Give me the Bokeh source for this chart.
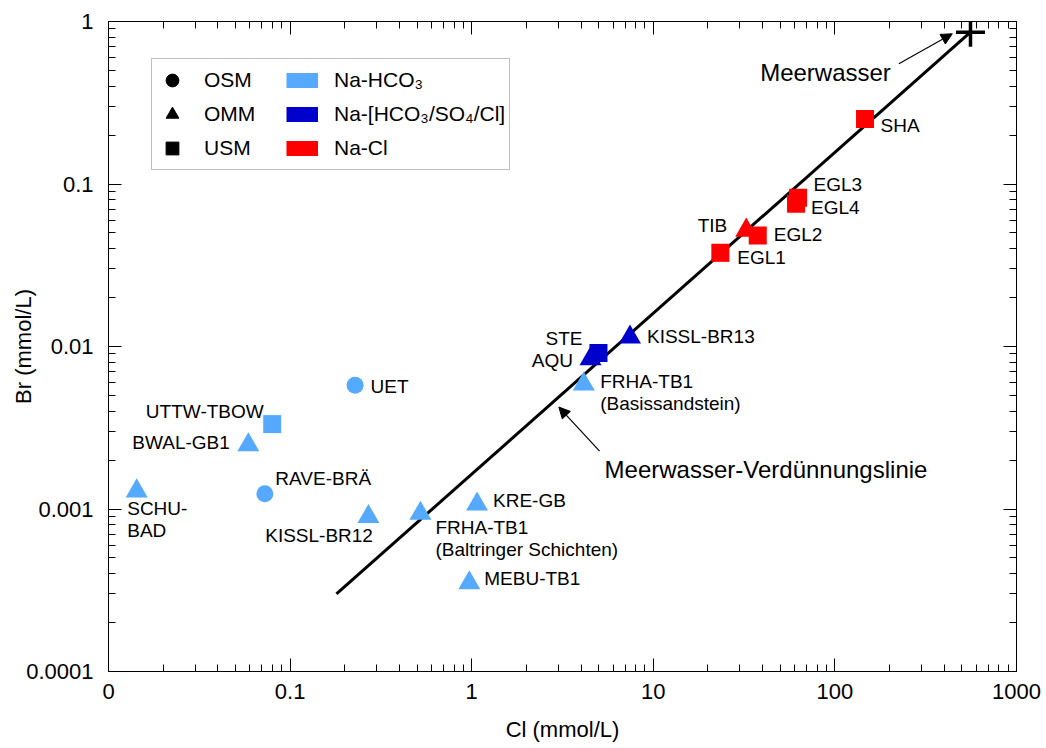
from bokeh.plotting import figure
from bokeh.models import (ColumnDataSource, Range1d, FixedTicker, LogAxis, Legend,
                          LegendItem, Arrow, NormalHead, CustomJSTickFormatter)
from bokeh.core.properties import value
from bokeh.embed import file_html
from bokeh.resources import INLINE

# ------------------------------------------------------------------ data
sample = ["SHA", "EGL3", "EGL4", "TIB", "EGL2", "EGL1", "KISSL-BR13", "AQU", "STE",
          "FRHA-TB1\n(Basissandstein)", "UET", "UTTW-TBOW", "BWAL-GB1", "SCHU-\nBAD",
          "RAVE-BRÄ", "KISSL-BR12", "FRHA-TB1\n(Baltringer Schichten)", "KRE-GB", "MEBU-TB1"]
cl_mmol = [146.5, 62.7, 61.1, 32.5, 37.6, 23.4, 7.44, 4.51, 4.99,
           4.14, 0.228, 0.0797, 0.0589, 0.0143,
           0.0726, 0.270, 0.522, 1.07, 0.970]
br_mmol = [0.251, 0.0823, 0.0755, 0.0519, 0.0482, 0.0377, 0.0114, 0.00838, 0.00912,
           0.00587, 0.00577, 0.00333, 0.00248, 0.00129,
           0.00124, 0.000896, 0.000939, 0.00107, 0.000351]
aquifer = ["USM", "USM", "USM", "OMM", "USM", "USM", "OMM", "OMM", "USM",
           "OMM", "OSM", "USM", "OMM", "OMM",
           "OSM", "OMM", "OMM", "OMM", "OMM"]
water_type = ["Na-Cl", "Na-Cl", "Na-Cl", "Na-Cl", "Na-Cl", "Na-Cl",
              "Na-mix", "Na-mix", "Na-mix",
              "Na-HCO3", "Na-HCO3", "Na-HCO3", "Na-HCO3", "Na-HCO3",
              "Na-HCO3", "Na-HCO3", "Na-HCO3", "Na-HCO3", "Na-HCO3"]

seawater_cl = [558.0]
seawater_br = [0.86]

dilution_cl = [0.18, 558.0]
dilution_br = [0.0003, 0.86]

x_tick_values = [0.01, 0.1, 1, 10, 100, 1000]
x_tick_labels = ["0", "0.1", "1", "10", "100", "1000"]
y_tick_values = [0.0001, 0.001, 0.01, 0.1, 1]
y_tick_labels = ["0.0001", "0.001", "0.01", "0.1", "1"]

aquifer_names = ["OSM", "OMM", "USM"]
type_keys = ["Na-HCO3", "Na-mix", "Na-Cl"]
type_names = ["Na-HCO₃", "Na-[HCO₃/SO₄/Cl]", "Na-Cl"]

annot_text = ["Meerwasser", "Meerwasser-Verdünnungslinie"]
annot_x_start = [225.0, 5.06]
annot_y_start = [0.549, 0.00227]
annot_x_end = [443.0, 3.02]
annot_y_end = [0.84, 0.00424]

# ------------------------------------------------------------------ styles
FONT = "Liberation Sans"
MARKER = {"OSM": "circle", "OMM": "triangle", "USM": "square"}
SIZE = {"OSM": 17, "OMM": 22, "USM": 18}
COLOR = {"Na-HCO3": "#55AAFF", "Na-mix": "#0000CC", "Na-Cl": "#FF0000"}

# label placement (screen px offsets, alignment) per sample
LABEL_POS = {
    "SHA": (15.5, 6, "left"),
    "EGL3": (15.5, -13, "left"),
    "EGL4": (15, 4, "left"),
    "TIB": (-19, -4.5, "right"),
    "EGL2": (16, -1, "left"),
    "EGL1": (17, 4.5, "left"),
    "KISSL-BR13": (17, -1, "left"),
    "AQU": (-17.5, 2, "right"),
    "STE": (-16, -14.5, "right"),
    "FRHA-TB1\n(Basissandstein)": (16.5, 8.5, "left"),
    "UET": (15.5, 1, "left"),
    "UTTW-TBOW": (-8.5, -12.5, "right"),
    "BWAL-GB1": (-18.5, -2, "right"),
    "SCHU-\nBAD": (-9.5, 28.5, "left"),
    "RAVE-BRÄ": (10.5, -15.5, "left"),
    "KISSL-BR12": (4.5, 19, "right"),
    "FRHA-TB1\n(Baltringer Schichten)": (15, 25.5, "left"),
    "KRE-GB": (16, -3.5, "left"),
    "MEBU-TB1": (15, -4, "left"),
}
ANNOT_POS = [(-8, 8.5, "right"), (5, 18, "left")]

# ------------------------------------------------------------------ figure
p = figure(width=1046, height=748, x_axis_type="log", y_axis_type="log",
           x_range=Range1d(0.01, 1000), y_range=Range1d(0.0001, 1),
           output_backend="svg", toolbar_location=None,
           min_border_left=108, min_border_right=30, min_border_top=21,
           min_border_bottom=77, background_fill_color="white",
           border_fill_color="white")
p.grid.visible = False
p.outline_line_color = "black"


def minor(lo_exp, hi_exp):
    return [m * 10.0 ** k for k in range(lo_exp, hi_exp) for m in range(2, 10)]


x_ticker = FixedTicker(ticks=x_tick_values, minor_ticks=minor(-2, 3))
y_ticker = FixedTicker(ticks=y_tick_values, minor_ticks=minor(-4, 0))

label_js = """
for (let i = 0; i < vals.length; i++) {
  if (Math.abs(Math.log10(tick) - Math.log10(vals[i])) < 1e-6) return labs[i];
}
return '';
"""


def style_axis(ax, ticker, vals=None, labs=None):
    ax.ticker = ticker
    ax.axis_line_color = "black"
    ax.axis_line_width = 1
    ax.major_tick_line_color = "black"
    ax.minor_tick_line_color = "black"
    ax.major_tick_in = 13
    ax.major_tick_out = 0
    ax.minor_tick_in = 7
    ax.minor_tick_out = 0
    if vals is None:
        ax.formatter = CustomJSTickFormatter(code="return '';")
        ax.major_label_text_font_size = "0px"
        ax.major_label_standoff = 0
    else:
        ax.formatter = CustomJSTickFormatter(args=dict(vals=vals, labs=labs), code=label_js)
        ax.major_label_text_font = FONT
        ax.major_label_text_font_size = "22px"
        ax.major_label_text_color = "black"
        ax.axis_label_text_font = FONT
        ax.axis_label_text_font_size = "22px"
        ax.axis_label_text_font_style = "normal"
        ax.axis_label_text_color = "black"


xa = p.xaxis[0]
ya = p.yaxis[0]
style_axis(xa, x_ticker, x_tick_values, x_tick_labels)
style_axis(ya, y_ticker, y_tick_values, y_tick_labels)
xa.axis_label = "Cl (mmol/L)"
xa.major_label_standoff = 12
xa.axis_label_standoff = 15
ya.axis_label = "Br (mmol/L)"
ya.major_label_standoff = 15
ya.axis_label_standoff = -13

top_axis = LogAxis()
style_axis(top_axis, x_ticker)
p.add_layout(top_axis, "above")
right_axis = LogAxis()
style_axis(right_axis, y_ticker)
p.add_layout(right_axis, "right")

# dilution line and seawater point
p.line(dilution_cl, dilution_br, line_width=3, line_color="black")
p.scatter(seawater_cl, seawater_br, marker="cross", size=29, line_width=3.5,
          line_color="black")

# samples
src = ColumnDataSource(dict(
    x=cl_mmol, y=br_mmol, label=sample,
    marker=[MARKER[a] for a in aquifer],
    size=[SIZE[a] for a in aquifer],
    color=[COLOR[t] for t in water_type],
    dx=[LABEL_POS[s][0] for s in sample],
    dy=[LABEL_POS[s][1] for s in sample],
    align=[LABEL_POS[s][2] for s in sample],
))
p.scatter("x", "y", source=src, marker="marker", size="size",
          fill_color="color", line_color=None)
p.text("x", "y", text="label", source=src, x_offset="dx", y_offset="dy",
       text_align="align", text_baseline="middle", text_font=value(FONT),
       text_font_size="19px", text_color="black", text_line_height=1.05)

# annotations with arrows
asrc = ColumnDataSource(dict(xs=annot_x_start, ys=annot_y_start,
                             xe=annot_x_end, ye=annot_y_end, text=annot_text,
                             dx=[a[0] for a in ANNOT_POS], dy=[a[1] for a in ANNOT_POS],
                             align=[a[2] for a in ANNOT_POS]))
p.add_layout(Arrow(source=asrc, x_start="xs", y_start="ys", x_end="xe", y_end="ye",
                   line_width=1.2, line_color="black",
                   end=NormalHead(size=11, fill_color="black", line_color="black",
                                  line_width=1)))
p.text("xs", "ys", text="text", source=asrc, x_offset="dx", y_offset="dy",
       text_align="align", text_baseline="middle", text_font=value(FONT),
       text_font_size="24px", text_color="black")

# legend (proxy renderers sit far outside the visible ranges)
hidden = ColumnDataSource(dict(x=[1e-9, 1e-9], y=[1e-12, 1e-12]))
items = []
for name in aquifer_names:
    r = p.scatter("x", "y", source=hidden, marker=MARKER[name], size=10,
                  fill_color="black", line_color="black")
    items.append(LegendItem(label=name, renderers=[r]))
for key, name in zip(type_keys, type_names):
    r = p.line("x", "y", source=hidden, line_color=COLOR[key], line_width=15)
    items.append(LegendItem(label=name, renderers=[r]))

legend = Legend(items=items, orientation="vertical", ncols=2, nrows=3,
                location=(43, 501), margin=0, padding=4, spacing=0,
                glyph_width=32, glyph_height=34, label_height=34, label_width=82,
                label_standoff=16, label_text_font=FONT,
                label_text_font_size="21px", label_text_color="black",
                label_text_baseline="middle",
                border_line_color="#808080", border_line_width=1,
                background_fill_color="white", background_fill_alpha=1.0)
p.add_layout(legend, "center")

open("out.html", "w").write(file_html(p, INLINE))
